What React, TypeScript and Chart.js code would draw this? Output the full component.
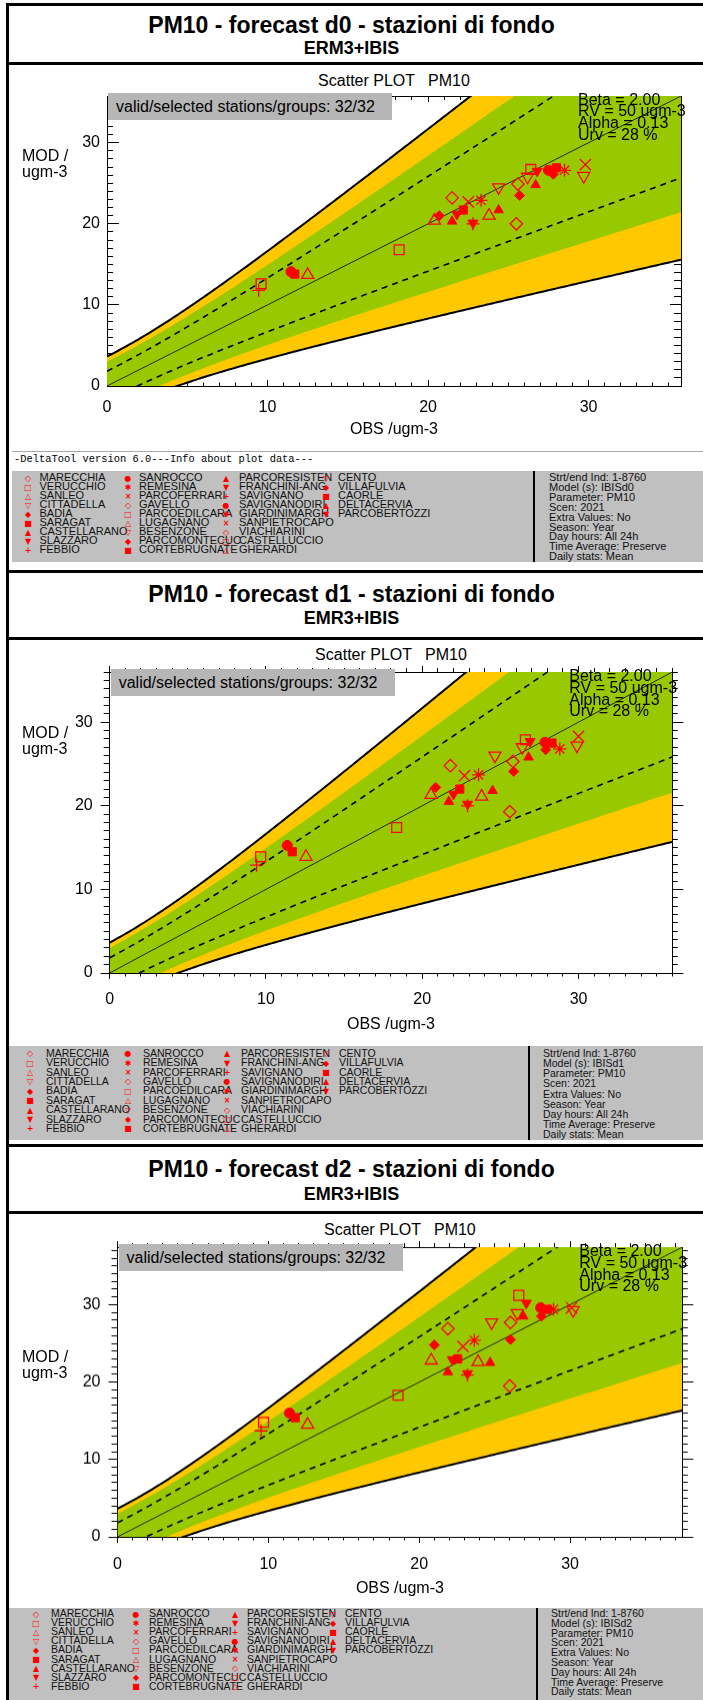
import React, { useEffect, useRef } from 'react';
import { Chart, registerables } from 'chart.js';
Chart.register(...registerables);

// ---------------- data ----------------
const STATION_LABELS = [
  'MARECCHIA', 'VERUCCHIO', 'SANLEO', 'CITTADELLA', 'BADIA', 'SARAGAT', 'CASTELLARANO', 'SLAZZARO', 'FEBBIO',
  'SANROCCO', 'REMESINA', 'PARCOFERRARI', 'GAVELLO', 'PARCOEDILCARA', 'LUGAGNANO', 'BESENZONE', 'PARCOMONTECUC', 'CORTEBRUGNATE',
  'PARCORESISTEN', 'FRANCHINI-ANG', 'SAVIGNANO', 'SAVIGNANODIRI', 'GIARDINIMARGH', 'SANPIETROCAPO', 'VIACHIARINI', 'CASTELLUCCIO', 'GHERARDI',
  'CENTO', 'VILLAFULVIA', 'CAORLE', 'DELTACERVIA', 'PARCOBERTOZZI',
];
const SHAPE_CYCLE = ['odia', 'osq', 'otri', 'odtri', 'fdia', 'fsq', 'ftri', 'fdtri', 'plus', 'fcirc', 'star', 'x'];

const OBS_D0 = [21.5, 9.6, 12.5, 24.4, 20.7, 11.7, 21.5, 21.8, 9.45, 11.46, 23.3, 22.5, 25.5, 18.2, 20.4, 26.2, 25.7, 22.2, 24.4, 22.8, 22.8, 27.5, 28.5, 29.8, 25.6, 26.4, 23.8, 29.7, 27.8, 28.0, 26.7, 26.8];
const MOD_D0 = [23.2, 12.6, 13.7, 24.5, 21.0, 13.8, 20.3, 21.2, 11.8, 14.1, 22.9, 22.7, 20.0, 16.8, 20.4, 25.8, 23.5, 21.7, 21.7, 20.1, 20.0, 26.6, 26.6, 27.3, 24.9, 26.7, 21.0, 25.9, 26.1, 26.9, 24.8, 26.5];

const OBS_D1 = [21.8, 9.66, 12.56, 24.65, 20.86, 11.68, 21.7, 22.0, 9.4, 11.36, 23.6, 22.7, 25.6, 18.36, 20.56, 26.4, 25.85, 22.4, 24.5, 22.9, 22.9, 27.85, 28.8, 30.0, 25.8, 26.6, 23.8, 29.9, 27.9, 28.3, 26.8, 26.9];
const MOD_D1 = [24.8, 13.9, 13.9, 26.0, 22.2, 14.5, 20.5, 21.4, 12.9, 15.25, 23.7, 23.6, 19.3, 17.4, 21.3, 27.0, 24.1, 22.0, 21.8, 20.2, 20.0, 27.6, 26.8, 28.3, 25.3, 27.9, 21.1, 27.2, 26.7, 27.5, 25.8, 27.7];

const OBS_D2 = [21.9, 9.68, 12.6, 24.8, 21.0, 11.78, 21.9, 22.2, 9.52, 11.4, 23.65, 22.9, 26.0, 18.6, 20.8, 26.5, 26.05, 22.55, 24.7, 23.2, 23.2, 28.05, 28.9, 30.1, 26.05, 26.6, 23.9, 30.2, 28.1, 28.5, 26.9, 27.1];
const MOD_D2 = [26.9, 14.8, 14.5, 27.7, 24.8, 15.4, 21.3, 22.9, 13.7, 16.0, 25.4, 24.6, 19.5, 18.3, 22.8, 28.9, 25.5, 23.0, 22.5, 21.1, 20.9, 29.6, 29.4, 29.6, 27.7, 31.2, 22.6, 29.3, 28.5, 29.4, 28.5, 30.2];

const X_TICK_STEP = 10;
const MINOR_STEP = 1;
const AXIS_FACTOR = 1.2;

// target-diagram parameters (shown in the chart)
const BETA = 2.0;
const RV = 50;
const ALPHA = 0.13;
const URV = 0.28;
// green zone half-width parameters
const GREEN_A = 3.0;
const GREEN_B = 0.392;

const PARAM_LINES = ['Beta = 2.00', 'RV = 50 ugm-3', 'Alpha = 0.13', 'Urv = 28 %'];
const infoLines = (model: string) => [
  'Strt/end Ind: 1-8760', `Model (s): ${model}`, 'Parameter: PM10', 'Scen: 2021', 'Extra Values: No',
  'Season: Year', 'Day hours: All 24h', 'Time Average: Preserve', 'Daily stats: Mean',
];

// ---------------- styles ----------------
const FONT = "'Liberation Sans', Arial, Helvetica, sans-serif";
const RED = '#ff0000';
const ORANGE = '#ffc800';
const GREEN = '#98c800';
const BOX_GRAY = '#b6b6b6';
const LEG_GRAY = '#c0c0c0';

const unc = (o: number) => URV * Math.sqrt((1 - ALPHA * ALPHA) * o * o + ALPHA * ALPHA * RV * RV);
const greenHalf = (o: number) => Math.sqrt(GREEN_A * GREEN_A + GREEN_B * GREEN_B * o * o);

const SHAPE_STYLE: Record<string, any> = {
  odia: { pointStyle: 'rectRot', r: 6.2, fill: false, rot: 0 },
  osq: { pointStyle: 'rect', r: 7, fill: false, rot: 0 },
  otri: { pointStyle: 'triangle', r: 7, fill: false, rot: 0 },
  odtri: { pointStyle: 'triangle', r: 7, fill: false, rot: 180 },
  fdia: { pointStyle: 'rectRot', r: 5, fill: true, rot: 0 },
  fsq: { pointStyle: 'rect', r: 5.8, fill: true, rot: 0 },
  ftri: { pointStyle: 'triangle', r: 5.5, fill: true, rot: 0 },
  fdtri: { pointStyle: 'triangle', r: 5.8, fill: true, rot: 180 },
  plus: { pointStyle: 'cross', r: 6.5, fill: false, rot: 0 },
  fcirc: { pointStyle: 'circle', r: 5, fill: true, rot: 0 },
  star: { pointStyle: 'star', r: 6.5, fill: false, rot: 0 },
  x: { pointStyle: 'crossRot', r: 8, fill: false, rot: 0 },
};
const SHAPE_GLYPH: Record<string, string> = {
  odia: '\u25C7', osq: '\u25A1', otri: '\u25B3', odtri: '\u25BD', fdia: '\u25C6', fsq: '\u25A0',
  ftri: '\u25B2', fdtri: '\u25BC', plus: '+', fcirc: '\u25CF', star: '\u2731', x: '\u00D7',
};

type Geo = {
  frameTop: number; titleY: number; subY: number; divY: number; scatterY: number;
  L: number; R: number; T: number; B: number;
  modY: number; xLabY: number; obsY: number; yLabGap: number; inward: boolean;
  legLeft: number; legTop: number; legBot: number; header: boolean;
  symX: number[]; nameX: number[]; rowY0: number; rowDy: number;
  divX: number; infoX: number; infoY0: number; infoDy: number; legFont: number;
};

const G1: Geo = {
  frameTop: 4, titleY: 25, subY: 48, divY: 63, scatterY: 81,
  L: 107, R: 681, T: 95.6, B: 386,
  modY: 156, xLabY: 408, obsY: 430, yLabGap: 7, inward: true,
  legLeft: 12, legTop: 471, legBot: 562, header: true,
  symX: [28, 128, 226, 326], nameX: [39.5, 139, 239, 338], rowY0: 477, rowDy: 9,
  divX: 534, infoX: 549, infoY0: 477, infoDy: 9.9, legFont: 11,
};
const G2: Geo = {
  frameTop: 571.5, titleY: 594, subY: 618, divY: 638, scatterY: 655,
  L: 109.7, R: 672.3, T: 672, B: 973.3,
  modY: 733, xLabY: 1000, obsY: 1025, yLabGap: 17, inward: false,
  legLeft: 8, legTop: 1046, legBot: 1140, header: false,
  symX: [30, 128, 227, 326], nameX: [46, 143, 241, 339], rowY0: 1052.7, rowDy: 9.4,
  divX: 529, infoX: 543, infoY0: 1052.7, infoDy: 10.2, legFont: 10.5,
};
const G3: Geo = {
  frameTop: 1145.5, titleY: 1169, subY: 1194, divY: 1212, scatterY: 1230,
  L: 117.5, R: 682.3, T: 1247, B: 1536.7,
  modY: 1357, xLabY: 1564, obsY: 1588, yLabGap: 17, inward: false,
  legLeft: 8, legTop: 1608, legBot: 1700, header: false,
  symX: [36, 136, 235, 333], nameX: [51, 149, 247, 345], rowY0: 1613, rowDy: 9.1,
  divX: 537, infoX: 551, infoY0: 1613, infoDy: 9.8, legFont: 10.5,
};

const CANVAS_LEFT = 20;
const PAD_TOP = 34;
const X_AXIS_H = 62;

function PlotCanvas({ g, obs, mod }: { g: Geo; obs: number[]; mod: number[] }) {
  const ref = useRef<HTMLCanvasElement>(null);
  const CT = g.T - PAD_TOP;
  const CW = 703 - CANVAS_LEFT;
  const CH = g.B + X_AXIS_H - CT;

  useEffect(() => {
    if (!ref.current) return;
    const maxV = AXIS_FACTOR * Math.max(...obs, ...mod);
    const n = 240;
    const os = Array.from({ length: n + 1 }, (_, i) => (maxV * i) / n);
    const tl = g.inward
      ? { xMaj: -6, xMin: -3.5, yMaj: -12, yMin: -6, tMaj: -6, tMin: -4, rMaj: -11, rMin: -7 }
      : { xMaj: 6, xMin: 3.5, yMaj: 9, yMin: 6, tMaj: 6, tMin: 4, rMaj: 11, rMin: 5.5 };
    const tickFont = { family: FONT, size: 16 };

    const lineDs = (data: any[], extra: any) => ({
      type: 'line', data, showLine: true, pointRadius: 0, pointHoverRadius: 0, borderWidth: 0,
      borderColor: 'rgba(0,0,0,0)', fill: false, tension: 0, clip: 0, ...extra,
    });

    const datasets: any[] = [
      lineDs(os.map((o) => ({ x: o, y: o + BETA * unc(o) })), { borderColor: '#000', borderWidth: 2, fill: 1, backgroundColor: ORANGE, order: 20 }),
      lineDs(os.map((o) => ({ x: o, y: o - BETA * unc(o) })), { borderColor: '#000', borderWidth: 2, order: 19 }),
      lineDs(os.map((o) => ({ x: o, y: o + greenHalf(o) })), { fill: 3, backgroundColor: GREEN, order: 18 }),
      lineDs(os.map((o) => ({ x: o, y: o - greenHalf(o) })), { order: 17 }),
      lineDs(os.map((o) => ({ x: o, y: o + unc(o) })), { borderColor: '#000', borderWidth: 1.6, borderDash: [6, 5], order: 16 }),
      lineDs(os.map((o) => ({ x: o, y: o - unc(o) })), { borderColor: '#000', borderWidth: 1.6, borderDash: [6, 5], order: 15 }),
      lineDs([{ x: 0, y: 0 }, { x: maxV, y: maxV }], { borderColor: '#000', borderWidth: 0.8, order: 14 }),
    ];
    obs.forEach((o, i) => {
      const shape = SHAPE_CYCLE[i % SHAPE_CYCLE.length];
      const st = SHAPE_STYLE[shape];
      datasets.push({
        type: 'scatter', label: STATION_LABELS[i], data: [{ x: o, y: mod[i] }],
        pointStyle: st.pointStyle, pointRadius: st.r, pointHoverRadius: st.r, pointRotation: st.rot,
        pointBorderColor: RED, pointBackgroundColor: st.fill ? RED : 'rgba(0,0,0,0)',
        pointBorderWidth: st.fill ? 1 : 1.3, order: 1, clip: false,
      });
    });

    const minorAxis = (position: string, step: number, length: number) => ({
      type: 'linear', position, min: 0, max: maxV, weight: 0,
      ticks: { stepSize: step, includeBounds: false, autoSkip: false, display: false },
      grid: { display: true, drawOnChartArea: false, drawTicks: true, tickLength: length, tickColor: '#000', tickWidth: 1 },
      border: { display: false },
      afterFit: (s: any) => { if (position === 'top' || position === 'bottom') s.height = 0; else s.width = 0; },
    });
    const majorAxis = (position: string, length: number, labels: boolean, extra: any = {}) => ({
      type: 'linear', position, min: 0, max: maxV, weight: 1,
      ticks: {
        stepSize: X_TICK_STEP, includeBounds: false, autoSkip: false, maxRotation: 0, display: labels,
        color: '#000', font: tickFont, ...(extra.ticks || {}),
      },
      grid: { display: true, drawOnChartArea: false, drawTicks: true, tickLength: length, tickColor: '#000', tickWidth: 1 },
      border: { display: true, color: '#000', width: 1 },
      title: extra.title || { display: false },
      afterFit: extra.afterFit || ((s: any) => { if (position === 'top' || position === 'bottom') s.height = 0; else s.width = 0; }),
    });

    const xPad = g.xLabY - g.B - 9.6 - tl.xMaj;
    const obsPad = g.B + X_AXIS_H - 9.6 - g.obsY;
    const yPad = g.yLabGap - tl.yMaj;

    const chart = new Chart(ref.current, {
      type: 'scatter',
      data: { datasets },
      options: {
        animation: false,
        responsive: false,
        events: [],
        layout: { padding: { left: 0, top: PAD_TOP, right: 703 - g.R, bottom: 0 } },
        plugins: { legend: { display: false }, tooltip: { enabled: false } },
        scales: {
          x: majorAxis('bottom', tl.xMaj, true, {
            ticks: { padding: xPad },
            title: { display: true, text: 'OBS /ugm-3', color: '#000', font: { family: FONT, size: 16 }, padding: { top: 0, bottom: obsPad } },
            afterFit: (s: any) => { s.height = X_AXIS_H; },
          }),
          xm: minorAxis('bottom', MINOR_STEP, tl.xMin),
          xt: majorAxis('top', tl.tMaj, false),
          xtm: minorAxis('top', MINOR_STEP, tl.tMin),
          y: majorAxis('left', tl.yMaj, true, {
            ticks: { padding: yPad },
            afterFit: (s: any) => { s.width = g.L - CANVAS_LEFT; },
          }),
          ym: minorAxis('left', MINOR_STEP, tl.yMin),
          yr: majorAxis('right', tl.rMaj, false),
          yrm: minorAxis('right', MINOR_STEP, tl.rMin),
        },
      } as any,
    } as any);
    return () => chart.destroy();
  }, []);

  return (
    <canvas
      ref={ref}
      width={CW}
      height={CH}
      style={{ position: 'absolute', left: CANVAS_LEFT, top: CT, width: CW, height: CH }}
    />
  );
}

const abs = (x: number, y: number, extra: React.CSSProperties = {}): React.CSSProperties => ({
  position: 'absolute', left: x, top: y, whiteSpace: 'pre', ...extra,
});

function HLine({ y, x0 = 6, x1 = 703, t = 3, color = '#000' }: { y: number; x0?: number; x1?: number; t?: number; color?: string }) {
  return <div style={{ position: 'absolute', left: x0, top: y - t / 2, width: x1 - x0, height: t, background: color }} />;
}

function Panel({ g, obs, mod, title, subtitle, model }: { g: Geo; obs: number[]; mod: number[]; title: string; subtitle: string; model: string }) {
  const cx = (g.L + g.R) / 2;
  const cols = [0, 1, 2, 3].map((c) => STATION_LABELS.slice(c * 9, c * 9 + 9));
  return (
    <>
      <HLine y={g.frameTop} />
      <div style={abs(0, g.titleY - 14, { width: 703, textAlign: 'center', fontWeight: 'bold', fontSize: 23, lineHeight: '28px' })}>{title}</div>
      <div style={abs(0, g.subY - 11, { width: 703, textAlign: 'center', fontWeight: 'bold', fontSize: 18, lineHeight: '22px' })}>{subtitle}</div>
      <HLine y={g.divY} />
      <div style={abs(cx - 150, g.scatterY - 10, { width: 300, textAlign: 'center', fontSize: 16, lineHeight: '20px' })}>{'Scatter PLOT   PM10'}</div>
      <PlotCanvas g={g} obs={obs} mod={mod} />
      <div style={abs(g.L + 1, g.T - 3, { width: 284, height: 27, background: BOX_GRAY, fontSize: 16, lineHeight: '27px', paddingLeft: 8, boxSizing: 'border-box' })}>
        valid/selected stations/groups: 32/32
      </div>
      <div style={abs(g.R - 103, g.T + 4 - 5.85, { fontSize: 16, lineHeight: '11.7px' })}>
        {PARAM_LINES.map((t) => <div key={t}>{t}</div>)}
      </div>
      <div style={abs(22, g.modY - 8, { fontSize: 16, lineHeight: '16px' })}>
        <div>MOD /</div>
        <div>ugm-3</div>
      </div>
      {g.header && (
        <>
          <HLine y={g.legTop - 20} x0={g.legLeft} t={1} color="#a8a8a8" />
          <div style={abs(g.legLeft + 2, g.legTop - 19, { fontFamily: "'Liberation Mono', 'DejaVu Sans Mono', monospace", fontSize: 10.4, lineHeight: '14px' })}>
            -DeltaTool version 6.0---Info about plot data---
          </div>
        </>
      )}
      <div style={abs(g.legLeft, g.legTop, { width: 703 - g.legLeft, height: g.legBot - g.legTop, background: LEG_GRAY })} />
      {cols.map((names, c) =>
        names.map((nm, r) => {
          const i = c * 9 + r;
          const shape = SHAPE_CYCLE[i % SHAPE_CYCLE.length];
          const y = g.rowY0 + r * g.rowDy;
          return (
            <React.Fragment key={nm}>
              <div style={abs(g.symX[c] - 5, y - 5 + 1.5, { width: 10, height: 10, textAlign: 'center', color: RED, fontFamily: "'DejaVu Sans', sans-serif", fontWeight: 'bold', fontSize: 8, lineHeight: '10px' })}>
                {SHAPE_GLYPH[shape]}
              </div>
              <div style={abs(g.nameX[c], y - 5, { fontSize: g.legFont, lineHeight: '10px', color: '#111' })}>{nm}</div>
            </React.Fragment>
          );
        })
      )}
      <div style={{ position: 'absolute', left: g.divX - 1, top: g.legTop, width: 2, height: g.legBot - g.legTop, background: '#000' }} />
      {infoLines(model).map((t, k) => (
        <div key={t} style={abs(g.infoX, g.infoY0 + k * g.infoDy - 5, { fontSize: g.legFont, lineHeight: '10px', color: '#111' })}>{t}</div>
      ))}
    </>
  );
}

export default function App() {
  return (
    <div style={{ position: 'absolute', left: 0, top: 0, width: 703, height: 1700, overflow: 'hidden', background: '#fff', fontFamily: FONT, color: '#000' }}>
      <Panel g={G1} obs={OBS_D0} mod={MOD_D0} title="PM10 - forecast d0 - stazioni di fondo" subtitle="ERM3+IBIS" model="IBISd0" />
      <Panel g={G2} obs={OBS_D1} mod={MOD_D1} title="PM10 - forecast d1 - stazioni di fondo" subtitle="EMR3+IBIS" model="IBISd1" />
      <Panel g={G3} obs={OBS_D2} mod={MOD_D2} title="PM10 - forecast d2 - stazioni di fondo" subtitle="EMR3+IBIS" model="IBISd2" />
      <div style={{ position: 'absolute', left: 6, top: G1.frameTop - 1.5, width: 3, height: 1700, background: '#000' }} />
    </div>
  );
}
